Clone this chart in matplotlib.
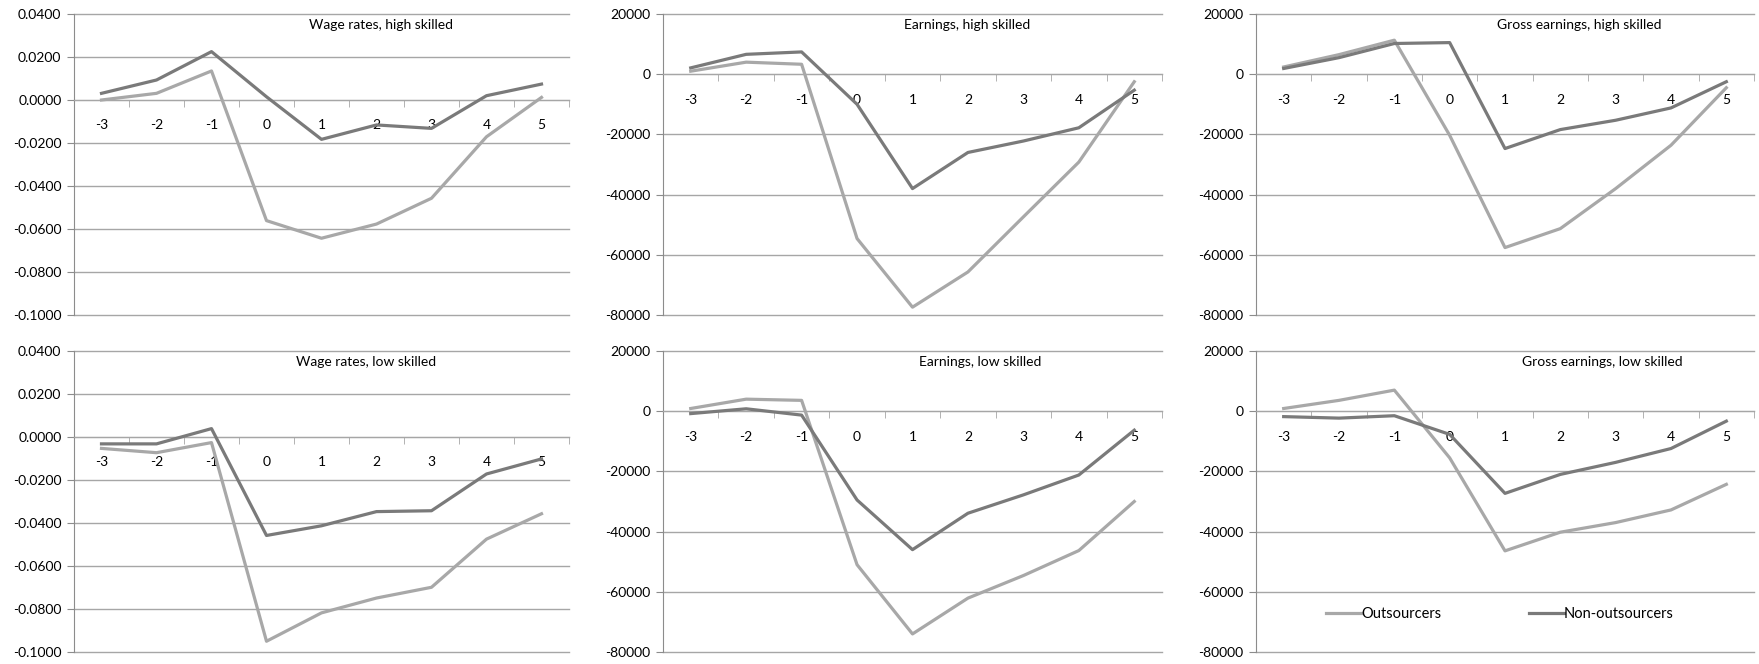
import matplotlib
matplotlib.use("Agg")
import matplotlib.pyplot as plt
from matplotlib.ticker import FixedLocator

plt.rcParams['font.family'] = ['Lato', 'DejaVu Sans']

# Years relative to the event
years = [-3, -2, -1, 0, 1, 2, 3, 4, 5]

# Wage rates
wage_high_out = [0.0000, 0.0031, 0.0135, -0.0561, -0.0643, -0.0577, -0.0457, -0.0171, 0.0012]
wage_high_non = [0.0031, 0.0093, 0.0225, 0.0015, -0.0183, -0.0116, -0.0132, 0.0020, 0.0074]
wage_low_out = [-0.0053, -0.0073, -0.0026, -0.0950, -0.0818, -0.0749, -0.0699, -0.0475, -0.0357]
wage_low_non = [-0.0032, -0.0032, 0.0039, -0.0458, -0.0413, -0.0347, -0.0343, -0.0172, -0.0102]

# Earnings
earn_high_out = [1000, 4000, 3300, -54600, -77400, -65700, -47400, -29200, -2500]
earn_high_non = [2100, 6600, 7400, -10000, -38000, -26000, -22200, -17800, -5300]
earn_low_out = [900, 4000, 3600, -51000, -74000, -62100, -54600, -46300, -30000]
earn_low_non = [-800, 800, -1300, -29500, -46000, -33900, -27800, -21200, -6300]

# Gross earnings
gross_high_out = [2400, 6500, 11300, -20300, -57600, -51300, -38000, -23600, -4500]
gross_high_non = [1900, 5500, 10200, 10500, -24700, -18400, -15300, -11200, -2500]
gross_low_out = [900, 3600, 7000, -15500, -46400, -40200, -37000, -32800, -24300]
gross_low_non = [-1800, -2300, -1500, -7700, -27300, -21000, -17000, -12400, -3300]

wage_ticks = [0.04, 0.02, 0.0, -0.02, -0.04, -0.06, -0.08, -0.10]
earn_ticks = [20000, 0, -20000, -40000, -60000, -80000]

panels = [
    ("Wage rates, high skilled", wage_high_out, wage_high_non, wage_ticks, "{:.4f}", 0.62),
    ("Earnings, high skilled", earn_high_out, earn_high_non, earn_ticks, "{:.0f}", 0.61),
    ("Gross earnings, high skilled", gross_high_out, gross_high_non, earn_ticks, "{:.0f}", 0.65),
    ("Wage rates, low skilled", wage_low_out, wage_low_non, wage_ticks, "{:.4f}", 0.59),
    ("Earnings, low skilled", earn_low_out, earn_low_non, earn_ticks, "{:.0f}", 0.635),
    ("Gross earnings, low skilled", gross_low_out, gross_low_non, earn_ticks, "{:.0f}", 0.695),
]

W, H = 1759, 664
fig = plt.figure(figsize=(W / 100, H / 100), dpi=100)

lefts = [74, 663, 1256]
rights = [569, 1162, 1754]
tops = [14, 351]
bottoms = [315, 652]

light = '#a8a8a8'
dark = '#7a7a7a'
grid_c = '#a6a6a6'

for idx, (title, out_vals, non_vals, ticks, fmt, tx) in enumerate(panels):
    r, c = divmod(idx, 3)
    ax = fig.add_axes([lefts[c] / W, 1 - bottoms[r] / H,
                       (rights[c] - lefts[c]) / W, (bottoms[r] - tops[r]) / H])

    ax.plot(years, out_vals, color=light, lw=2.3, label="Outsourcers", zorder=3)
    ax.plot(years, non_vals, color=dark, lw=2.3, label="Non-outsourcers", zorder=4)

    ax.set_xlim(-3.5, 5.5)
    ax.set_ylim(min(ticks), max(ticks))
    ax.set_yticks(ticks)
    ax.set_yticklabels([fmt.format(t) for t in ticks])
    ax.yaxis.grid(True, color=grid_c, lw=1.0)
    for gl in ax.get_ygridlines():
        gl.set_clip_on(False)
    ax.set_axisbelow(True)

    # category axis crossing at zero
    ax.spines['bottom'].set_position(('data', 0))
    ax.spines['bottom'].set_color(grid_c)
    ax.spines['left'].set_color('#8c8c8c')
    ax.spines['top'].set_visible(False)
    ax.spines['right'].set_visible(False)
    ax.set_xticks(years)
    ax.set_xticklabels([str(y) for y in years])
    ax.xaxis.set_minor_locator(FixedLocator([y - 0.5 for y in years] + [5.5]))
    ax.tick_params(axis='x', which='major', length=0, pad=14, labelsize=10)
    ax.tick_params(axis='x', which='minor', length=5, color=grid_c, direction='out')
    ax.tick_params(axis='y', length=5, color='#8c8c8c', labelsize=10, pad=4)

    ax.text(tx, 0.963, title, transform=ax.transAxes, ha='center', va='center', fontsize=10)

    if idx == 5:
        ax.legend(loc='center', bbox_to_anchor=(0.49, 0.126), ncol=2, frameon=False,
                  fontsize=10.5, handlelength=2.4, handletextpad=0.0, columnspacing=6.0)

fig.savefig("out.png", dpi=100)
